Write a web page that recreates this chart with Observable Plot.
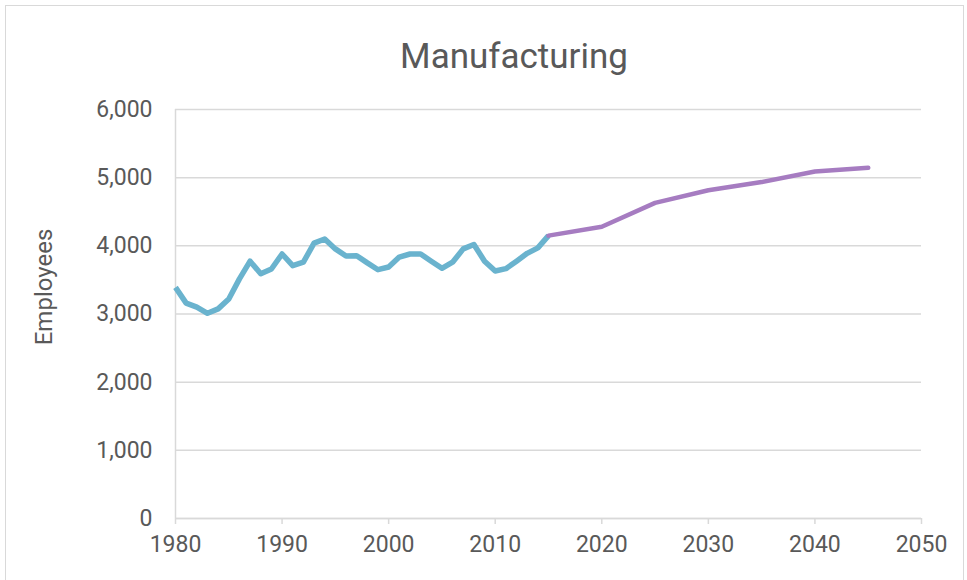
<!DOCTYPE html>
<html>
<head>
<meta charset="utf-8">
<script src="https://cdn.jsdelivr.net/npm/d3@7"></script>
<script src="https://cdn.jsdelivr.net/npm/@observablehq/plot@0.6"></script>
<style>
  body { margin: 0; background: #fff; }
  #wrap { position: relative; width: 967px; height: 580px; overflow: hidden; font-family: Roboto, "Open Sans", sans-serif; }
  #frame { position: absolute; left: 5px; top: 5px; width: 959px; height: 600px; border: 1.5px solid #d9d9d9; box-sizing: border-box; }
  #title { position: absolute; top: 0; left: 0; width: 967px; height: 90px; }
  #title span { position: absolute; left: 514px; top: 56px; transform: translate(-50%, -50%); font-size: 35px; color: #595959; white-space: nowrap; }
  #chart { position: absolute; top: 90px; left: 0; }
</style>
</head>
<body>
<div id="wrap">
  <div id="frame"></div>
  <div id="title"><span>Manufacturing</span></div>
  <div id="chart"></div>
</div>
<script>
const histYears = [1980,1981,1982,1983,1984,1985,1986,1987,1988,1989,1990,1991,1992,1993,1994,1995,1996,1997,1998,1999,2000,2001,2002,2003,2004,2005,2006,2007,2008,2009,2010,2011,2012,2013,2014,2015];
const histValues = [3390,3160,3100,3010,3075,3220,3515,3775,3590,3660,3880,3710,3760,4040,4100,3955,3850,3855,3750,3650,3690,3835,3880,3880,3775,3670,3760,3955,4020,3775,3630,3665,3775,3890,3970,4150];
const projYears = [2015,2020,2025,2030,2035,2040,2045];
const projValues = [4150,4280,4630,4815,4935,5090,5145];
const xTicks = [1980,1990,2000,2010,2020,2030,2040,2050];
const yTicks = [0,1000,2000,3000,4000,5000,6000];
const yLabel = "Employees";

const hist = histYears.map((y, i) => ({year: y, value: histValues[i]}));
const proj = projYears.map((y, i) => ({year: y, value: projValues[i]}));

const chart = Plot.plot({
  width: 967,
  height: 490,
  marginLeft: 175,
  marginRight: 46,
  marginTop: 19,
  marginBottom: 62,
  style: {fontFamily: "Roboto, 'Open Sans', sans-serif", fontSize: "23px", color: "#595959", background: "transparent"},
  x: {domain: [1980, 2050]},
  y: {domain: [0, 6000]},
  marks: [
    Plot.gridY(yTicks, {stroke: "#d9d9d9", strokeOpacity: 1, strokeWidth: 1.5}),
    Plot.ruleX([1980], {stroke: "#d9d9d9", strokeWidth: 1.5}),
    Plot.ruleY([0], {stroke: "#d9d9d9", strokeWidth: 1.5}),
    Plot.axisY(yTicks, {tickSize: 0, tickPadding: 23, tickFormat: d3.format(","), label: null, fill: "#595959", fontSize: 23}),
    Plot.axisX(xTicks, {tickSize: 6, tickPadding: 11, tickFormat: d => String(d), label: null, stroke: "#d9d9d9", strokeWidth: 1.5, fill: "#595959", fontSize: 23}),
    Plot.text([yLabel], {frameAnchor: "left", textAnchor: "middle", dx: -131, dy: -27, rotate: -90, fontSize: 24, fill: "#595959"}),
    Plot.line(hist, {x: "year", y: "value", stroke: "#6AB3CE", strokeWidth: 5.5, strokeLinejoin: "round", strokeLinecap: "butt"}),
    Plot.line(proj, {x: "year", y: "value", stroke: "#A67CC1", strokeWidth: 4.5, strokeLinejoin: "round", strokeLinecap: "round"})
  ]
});
document.getElementById("chart").appendChild(chart);
</script>
</body>
</html>
